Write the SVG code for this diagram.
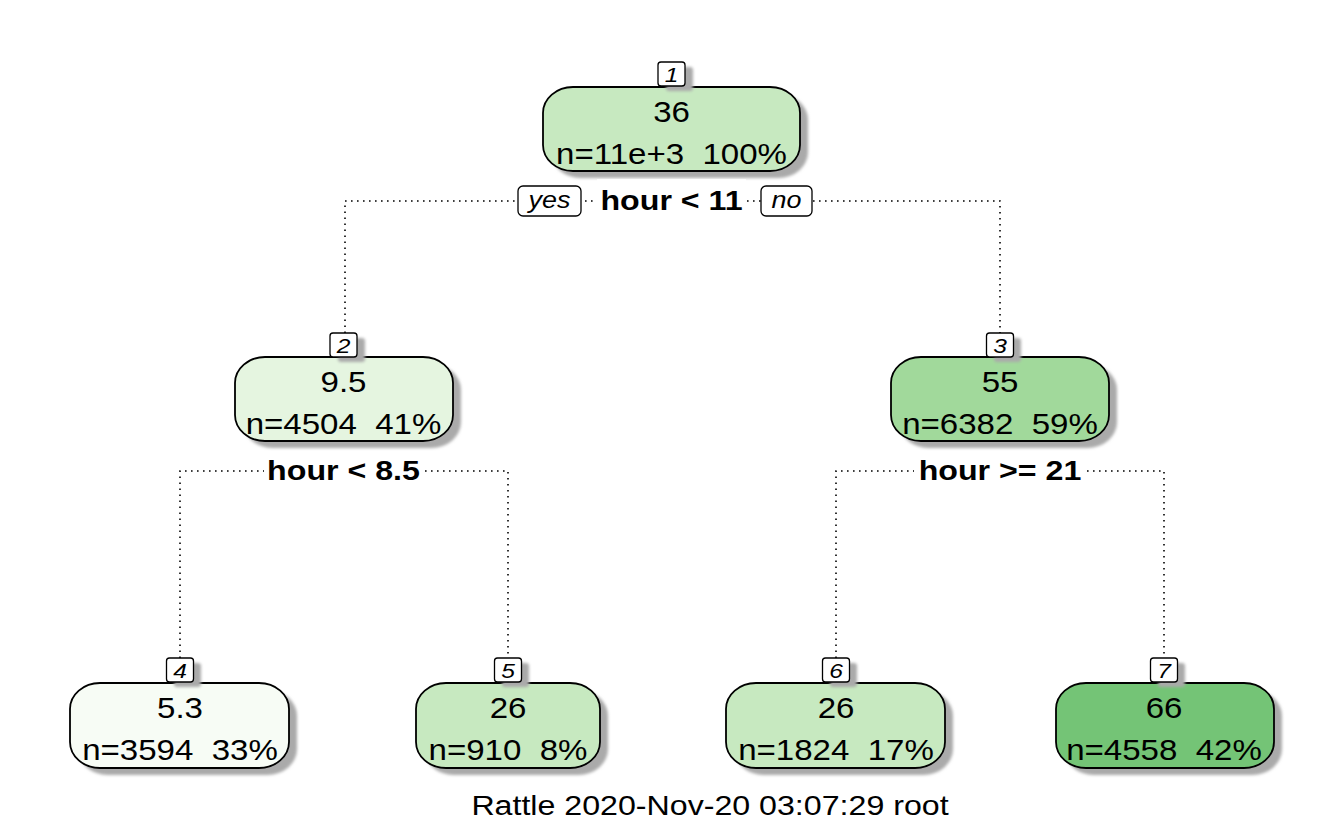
<svg xmlns="http://www.w3.org/2000/svg" width="1344" height="830" viewBox="0 0 1344 830" xml:space="preserve">
<style>
.bg{fill:#ffffff}
.node{stroke:#000;stroke-width:1.8}
.shadow{fill:#aaaaaa;filter:url(#blur)}
.lab{fill:#fff;stroke:#000;stroke-width:1.3}
.v{font-family:"Liberation Sans",Arial,Helvetica,sans-serif;font-size:29px;text-anchor:middle;fill:#000;white-space:pre}
.f{font-family:"Liberation Sans",Arial,Helvetica,sans-serif;font-size:27.5px;text-anchor:middle;fill:#000}
.s{font-family:"Liberation Sans",Arial,Helvetica,sans-serif;font-size:27.5px;font-weight:bold;text-anchor:middle;fill:#000}
.n{font-family:"Liberation Sans",Arial,Helvetica,sans-serif;font-size:21px;font-style:italic;text-anchor:middle;fill:#000}
.yn{font-family:"Liberation Sans",Arial,Helvetica,sans-serif;font-size:23px;font-style:italic;text-anchor:middle;fill:#000}
.dot{fill:none;stroke:#000;stroke-width:1.6;stroke-dasharray:1.6 4.4}
</style>
<defs>
<filter id="blur" x="-10%" y="-10%" width="120%" height="130%"><feGaussianBlur stdDeviation="1.6"/></filter>
</defs>
<rect class="bg" x="0" y="0" width="1344" height="830"/>
<g id="connectors">
<path class="dot" d="M345,333 V201 H1000 V333"/>
<path class="dot" d="M180,658 V471 H508 V658"/>
<path class="dot" d="M836,658 V471 H1164 V658"/>
</g>
<g id="node1">
<rect class="shadow" x="551" y="94" width="257" height="84" rx="30" ry="26"/>
<rect class="node" x="543" y="87" width="257" height="84" rx="30" ry="26" fill="#C7E9C0"/>
<rect class="shadow" x="666" y="67" width="27" height="24" rx="3"/>
<rect class="lab" x="658" y="62" width="27" height="24" rx="3"/>
<text class="n" transform="translate(671.5,82) scale(1.17,1)">1</text>
<text class="v" transform="translate(671.5,122) scale(1.14,1)">36</text>
<text class="v" transform="translate(671.5,164) scale(1.14,1)">n=11e+3  100%</text>
</g>
<g id="node2">
<rect class="shadow" x="243" y="364" width="218" height="84" rx="30" ry="26"/>
<rect class="node" x="235" y="357" width="218" height="84" rx="30" ry="26" fill="#E5F5E0"/>
<rect class="shadow" x="338" y="338" width="27" height="24" rx="3"/>
<rect class="lab" x="330" y="333" width="27" height="24" rx="3"/>
<text class="n" transform="translate(343.5,353) scale(1.17,1)">2</text>
<text class="v" transform="translate(343.5,392) scale(1.14,1)">9.5</text>
<text class="v" transform="translate(343.5,434) scale(1.14,1)">n=4504  41%</text>
</g>
<g id="node3">
<rect class="shadow" x="899" y="364" width="218" height="84" rx="30" ry="26"/>
<rect class="node" x="891" y="357" width="218" height="84" rx="30" ry="26" fill="#A1D99B"/>
<rect class="shadow" x="994" y="338" width="27" height="24" rx="3"/>
<rect class="lab" x="986.5" y="333" width="27" height="24" rx="3"/>
<text class="n" transform="translate(1000,353) scale(1.17,1)">3</text>
<text class="v" transform="translate(1000,392) scale(1.14,1)">55</text>
<text class="v" transform="translate(1000,434) scale(1.14,1)">n=6382  59%</text>
</g>
<g id="node4">
<rect class="shadow" x="78" y="690" width="219" height="85" rx="30" ry="26"/>
<rect class="node" x="70" y="683" width="219" height="85" rx="30" ry="26" fill="#F7FCF5"/>
<rect class="shadow" x="174" y="663" width="27" height="24" rx="3"/>
<rect class="lab" x="166.5" y="658" width="27" height="24" rx="3"/>
<text class="n" transform="translate(180,678) scale(1.17,1)">4</text>
<text class="v" transform="translate(180,718) scale(1.14,1)">5.3</text>
<text class="v" transform="translate(180,760) scale(1.14,1)">n=3594  33%</text>
</g>
<g id="node5">
<rect class="shadow" x="424" y="690" width="184" height="85" rx="30" ry="26"/>
<rect class="node" x="416" y="683" width="184" height="85" rx="30" ry="26" fill="#C7E9C0"/>
<rect class="shadow" x="502" y="663" width="27" height="24" rx="3"/>
<rect class="lab" x="494.5" y="658" width="27" height="24" rx="3"/>
<text class="n" transform="translate(508,678) scale(1.17,1)">5</text>
<text class="v" transform="translate(508,718) scale(1.14,1)">26</text>
<text class="v" transform="translate(508,760) scale(1.14,1)">n=910  8%</text>
</g>
<g id="node6">
<rect class="shadow" x="734" y="690" width="219" height="85" rx="30" ry="26"/>
<rect class="node" x="726" y="683" width="219" height="85" rx="30" ry="26" fill="#C7E9C0"/>
<rect class="shadow" x="830" y="663" width="27" height="24" rx="3"/>
<rect class="lab" x="822.5" y="658" width="27" height="24" rx="3"/>
<text class="n" transform="translate(836,678) scale(1.17,1)">6</text>
<text class="v" transform="translate(836,718) scale(1.14,1)">26</text>
<text class="v" transform="translate(836,760) scale(1.14,1)">n=1824  17%</text>
</g>
<g id="node7">
<rect class="shadow" x="1064" y="690" width="218" height="85" rx="30" ry="26"/>
<rect class="node" x="1056" y="683" width="218" height="85" rx="30" ry="26" fill="#74C476"/>
<rect class="shadow" x="1158" y="663" width="27" height="24" rx="3"/>
<rect class="lab" x="1150.5" y="658" width="27" height="24" rx="3"/>
<text class="n" transform="translate(1164,678) scale(1.17,1)">7</text>
<text class="v" transform="translate(1164,718) scale(1.14,1)">66</text>
<text class="v" transform="translate(1164,760) scale(1.14,1)">n=4558  42%</text>
</g>
<g id="splits">
<rect class="bg" x="597" y="179" width="149" height="40"/>
<text class="s" transform="translate(671.5,210) scale(1.17,1)">hour &lt; 11</text>
<rect class="lab" x="518" y="186" width="63" height="30" rx="5"/>
<text class="yn" transform="translate(549.5,208) scale(1.17,1)">yes</text>
<rect class="lab" x="761" y="186" width="51" height="30" rx="5"/>
<text class="yn" transform="translate(786.5,208) scale(1.17,1)">no</text>
<rect class="bg" x="264" y="454" width="160" height="34"/>
<text class="s" transform="translate(343.5,480) scale(1.17,1)">hour &lt; 8.5</text>
<rect class="bg" x="914" y="454" width="172" height="34"/>
<text class="s" transform="translate(1000,480) scale(1.17,1)">hour &gt;= 21</text>
</g>
<text class="f" transform="translate(710,815) scale(1.17,1)">Rattle 2020-Nov-20 03:07:29 root</text>
</svg>
